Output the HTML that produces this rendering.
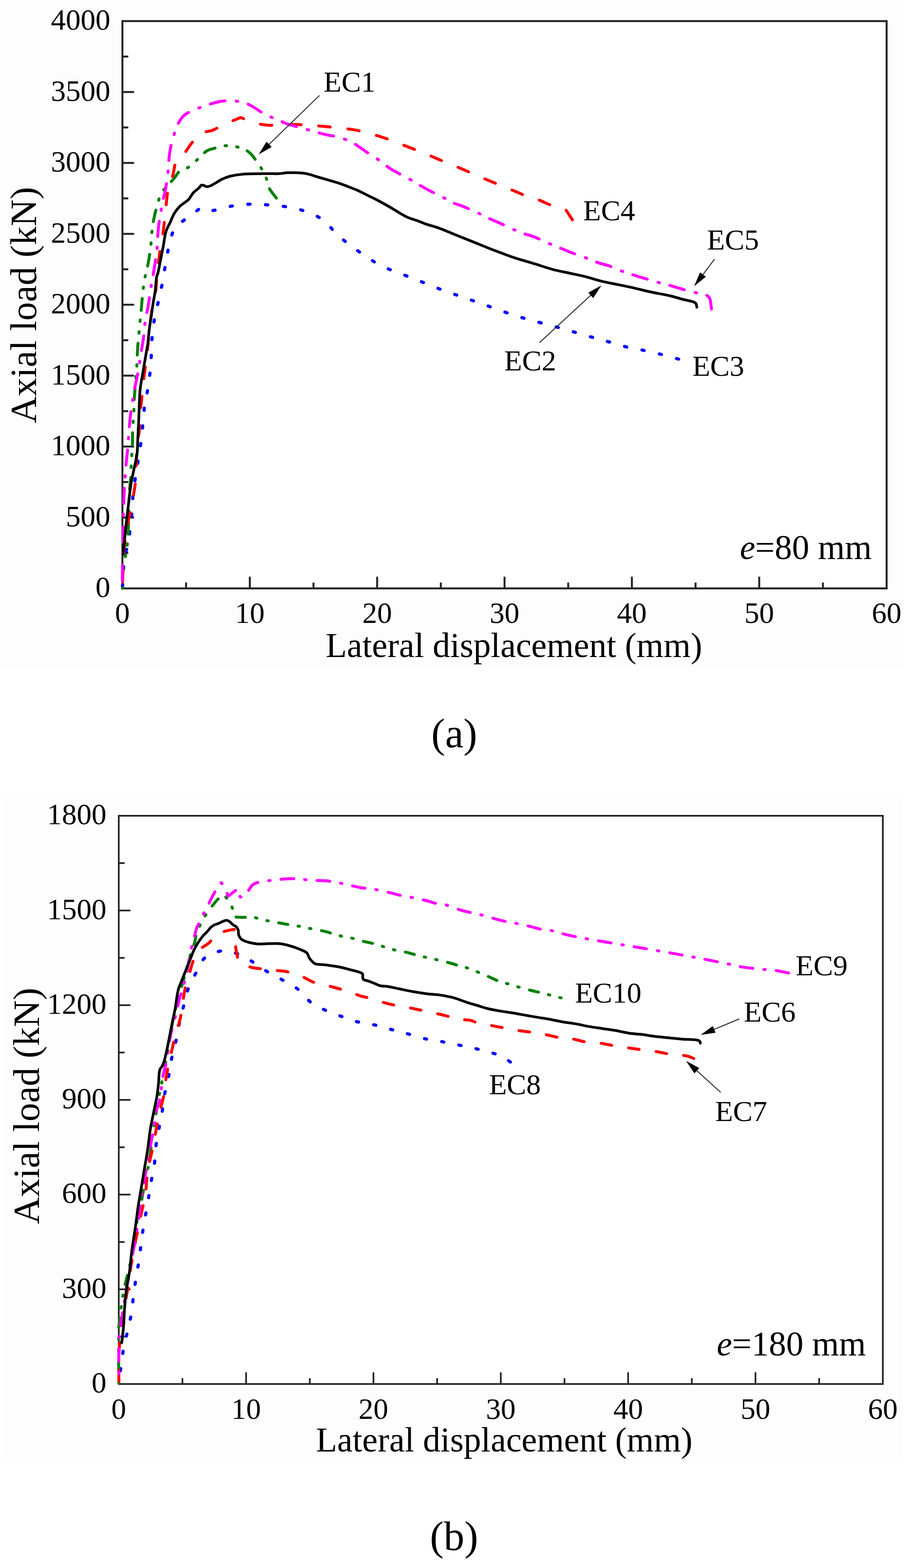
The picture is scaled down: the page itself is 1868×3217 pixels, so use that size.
<!DOCTYPE html>
<html><head><meta charset="utf-8"><title>Axial load vs lateral displacement</title>
<style>
html,body{margin:0;padding:0;background:#fff;}
body{width:1868px;height:3217px;overflow:hidden;position:relative;}
svg{position:absolute;left:0;top:0;}
text{font-family:"Liberation Serif","Times New Roman",serif;fill:#000;}
.tk{font-size:61px;}
.yt{font-size:76.6px;}
.xt{font-size:71.4px;}
.lb{font-size:60px;}
.ee{font-size:71px;}
.cap{font-size:85px;}
</style></head>
<body>
<svg width="1868" height="3217" viewBox="0 0 1868 3217">
<rect x="0" y="0" width="1857" height="1368" fill="#fdfdfd"/>
<rect x="6" y="1628" width="1846" height="1370" fill="#fdfdfd"/>
<rect x="251.3" y="43.3" width="1568.7" height="1163.9" fill="#fff" stroke="#232323" stroke-width="4.0"/>
<line x1="382.0" y1="1207.2" x2="382.0" y2="1195.2" stroke="#232323" stroke-width="4.0"/>
<line x1="512.8" y1="1207.2" x2="512.8" y2="1183.2" stroke="#232323" stroke-width="4.0"/>
<line x1="643.5" y1="1207.2" x2="643.5" y2="1195.2" stroke="#232323" stroke-width="4.0"/>
<line x1="774.2" y1="1207.2" x2="774.2" y2="1183.2" stroke="#232323" stroke-width="4.0"/>
<line x1="904.9" y1="1207.2" x2="904.9" y2="1195.2" stroke="#232323" stroke-width="4.0"/>
<line x1="1035.7" y1="1207.2" x2="1035.7" y2="1183.2" stroke="#232323" stroke-width="4.0"/>
<line x1="1166.4" y1="1207.2" x2="1166.4" y2="1195.2" stroke="#232323" stroke-width="4.0"/>
<line x1="1297.1" y1="1207.2" x2="1297.1" y2="1183.2" stroke="#232323" stroke-width="4.0"/>
<line x1="1427.8" y1="1207.2" x2="1427.8" y2="1195.2" stroke="#232323" stroke-width="4.0"/>
<line x1="1558.5" y1="1207.2" x2="1558.5" y2="1183.2" stroke="#232323" stroke-width="4.0"/>
<line x1="1689.3" y1="1207.2" x2="1689.3" y2="1195.2" stroke="#232323" stroke-width="4.0"/>
<line x1="251.3" y1="1134.5" x2="263.3" y2="1134.5" stroke="#232323" stroke-width="4.0"/>
<line x1="251.3" y1="1061.7" x2="275.3" y2="1061.7" stroke="#232323" stroke-width="4.0"/>
<line x1="251.3" y1="989.0" x2="263.3" y2="989.0" stroke="#232323" stroke-width="4.0"/>
<line x1="251.3" y1="916.2" x2="275.3" y2="916.2" stroke="#232323" stroke-width="4.0"/>
<line x1="251.3" y1="843.5" x2="263.3" y2="843.5" stroke="#232323" stroke-width="4.0"/>
<line x1="251.3" y1="770.7" x2="275.3" y2="770.7" stroke="#232323" stroke-width="4.0"/>
<line x1="251.3" y1="698.0" x2="263.3" y2="698.0" stroke="#232323" stroke-width="4.0"/>
<line x1="251.3" y1="625.2" x2="275.3" y2="625.2" stroke="#232323" stroke-width="4.0"/>
<line x1="251.3" y1="552.5" x2="263.3" y2="552.5" stroke="#232323" stroke-width="4.0"/>
<line x1="251.3" y1="479.8" x2="275.3" y2="479.8" stroke="#232323" stroke-width="4.0"/>
<line x1="251.3" y1="407.0" x2="263.3" y2="407.0" stroke="#232323" stroke-width="4.0"/>
<line x1="251.3" y1="334.3" x2="275.3" y2="334.3" stroke="#232323" stroke-width="4.0"/>
<line x1="251.3" y1="261.5" x2="263.3" y2="261.5" stroke="#232323" stroke-width="4.0"/>
<line x1="251.3" y1="188.8" x2="275.3" y2="188.8" stroke="#232323" stroke-width="4.0"/>
<line x1="251.3" y1="116.0" x2="263.3" y2="116.0" stroke="#232323" stroke-width="4.0"/>
<text x="251.3" y="1277.5" text-anchor="middle" class="tk">0</text>
<text x="512.8" y="1277.5" text-anchor="middle" class="tk">10</text>
<text x="774.2" y="1277.5" text-anchor="middle" class="tk">20</text>
<text x="1035.7" y="1277.5" text-anchor="middle" class="tk">30</text>
<text x="1297.1" y="1277.5" text-anchor="middle" class="tk">40</text>
<text x="1558.5" y="1277.5" text-anchor="middle" class="tk">50</text>
<text x="1820.0" y="1277.5" text-anchor="middle" class="tk">60</text>
<text x="226.5" y="1225.2" text-anchor="end" class="tk">0</text>
<text x="226.5" y="1079.7" text-anchor="end" class="tk">500</text>
<text x="226.5" y="934.2" text-anchor="end" class="tk">1000</text>
<text x="226.5" y="788.7" text-anchor="end" class="tk">1500</text>
<text x="226.5" y="643.2" text-anchor="end" class="tk">2000</text>
<text x="226.5" y="497.8" text-anchor="end" class="tk">2500</text>
<text x="226.5" y="352.3" text-anchor="end" class="tk">3000</text>
<text x="226.5" y="206.8" text-anchor="end" class="tk">3500</text>
<text x="226.5" y="61.3" text-anchor="end" class="tk">4000</text>
<rect x="243.8" y="1673.7" width="1568.4" height="1165.8" fill="#fff" stroke="#1e1e1e" stroke-width="3.4"/>
<line x1="374.5" y1="2839.5" x2="374.5" y2="2827.5" stroke="#1e1e1e" stroke-width="3.4"/>
<line x1="505.2" y1="2839.5" x2="505.2" y2="2815.5" stroke="#1e1e1e" stroke-width="3.4"/>
<line x1="635.9" y1="2839.5" x2="635.9" y2="2827.5" stroke="#1e1e1e" stroke-width="3.4"/>
<line x1="766.6" y1="2839.5" x2="766.6" y2="2815.5" stroke="#1e1e1e" stroke-width="3.4"/>
<line x1="897.3" y1="2839.5" x2="897.3" y2="2827.5" stroke="#1e1e1e" stroke-width="3.4"/>
<line x1="1028.0" y1="2839.5" x2="1028.0" y2="2815.5" stroke="#1e1e1e" stroke-width="3.4"/>
<line x1="1158.7" y1="2839.5" x2="1158.7" y2="2827.5" stroke="#1e1e1e" stroke-width="3.4"/>
<line x1="1289.4" y1="2839.5" x2="1289.4" y2="2815.5" stroke="#1e1e1e" stroke-width="3.4"/>
<line x1="1420.1" y1="2839.5" x2="1420.1" y2="2827.5" stroke="#1e1e1e" stroke-width="3.4"/>
<line x1="1550.8" y1="2839.5" x2="1550.8" y2="2815.5" stroke="#1e1e1e" stroke-width="3.4"/>
<line x1="1681.5" y1="2839.5" x2="1681.5" y2="2827.5" stroke="#1e1e1e" stroke-width="3.4"/>
<line x1="243.8" y1="2742.3" x2="255.8" y2="2742.3" stroke="#1e1e1e" stroke-width="3.4"/>
<line x1="243.8" y1="2645.2" x2="267.8" y2="2645.2" stroke="#1e1e1e" stroke-width="3.4"/>
<line x1="243.8" y1="2548.1" x2="255.8" y2="2548.1" stroke="#1e1e1e" stroke-width="3.4"/>
<line x1="243.8" y1="2450.9" x2="267.8" y2="2450.9" stroke="#1e1e1e" stroke-width="3.4"/>
<line x1="243.8" y1="2353.8" x2="255.8" y2="2353.8" stroke="#1e1e1e" stroke-width="3.4"/>
<line x1="243.8" y1="2256.6" x2="267.8" y2="2256.6" stroke="#1e1e1e" stroke-width="3.4"/>
<line x1="243.8" y1="2159.4" x2="255.8" y2="2159.4" stroke="#1e1e1e" stroke-width="3.4"/>
<line x1="243.8" y1="2062.3" x2="267.8" y2="2062.3" stroke="#1e1e1e" stroke-width="3.4"/>
<line x1="243.8" y1="1965.2" x2="255.8" y2="1965.2" stroke="#1e1e1e" stroke-width="3.4"/>
<line x1="243.8" y1="1868.0" x2="267.8" y2="1868.0" stroke="#1e1e1e" stroke-width="3.4"/>
<line x1="243.8" y1="1770.8" x2="255.8" y2="1770.8" stroke="#1e1e1e" stroke-width="3.4"/>
<text x="243.8" y="2910.5" text-anchor="middle" class="tk">0</text>
<text x="505.2" y="2910.5" text-anchor="middle" class="tk">10</text>
<text x="766.6" y="2910.5" text-anchor="middle" class="tk">20</text>
<text x="1028.0" y="2910.5" text-anchor="middle" class="tk">30</text>
<text x="1289.4" y="2910.5" text-anchor="middle" class="tk">40</text>
<text x="1550.8" y="2910.5" text-anchor="middle" class="tk">50</text>
<text x="1812.2" y="2910.5" text-anchor="middle" class="tk">60</text>
<text x="218.5" y="2857.0" text-anchor="end" class="tk">0</text>
<text x="218.5" y="2662.7" text-anchor="end" class="tk">300</text>
<text x="218.5" y="2468.4" text-anchor="end" class="tk">600</text>
<text x="218.5" y="2274.1" text-anchor="end" class="tk">900</text>
<text x="218.5" y="2079.8" text-anchor="end" class="tk">1200</text>
<text x="218.5" y="1885.5" text-anchor="end" class="tk">1500</text>
<text x="218.5" y="1691.2" text-anchor="end" class="tk">1800</text>
<text transform="translate(73.7,868.5) rotate(-90)" class="yt">Axial load (kN)</text>
<text transform="translate(80.3,2511.5) rotate(-90)" class="yt">Axial load (kN)</text>
<text x="668.4" y="1347.7" class="xt">Lateral displacement (mm)</text>
<text x="648.4" y="2977.9" class="xt">Lateral displacement (mm)</text>
<path d="M1393.0,736.8 C1381.1,733.6 1369.3,730.2 1357.4,727.2 C1345.6,724.2 1333.7,721.5 1321.9,719.0 C1310.2,716.5 1298.3,714.8 1286.7,712.0 C1275.1,709.2 1262.8,705.0 1252.2,702.0 C1243.2,699.5 1236.2,697.8 1227.0,695.2 C1215.7,692.1 1201.7,688.0 1189.5,684.5 C1177.9,681.1 1166.3,677.5 1155.5,674.5 C1145.6,671.7 1137.2,669.6 1127.1,666.9 C1115.4,663.7 1101.4,660.0 1089.2,656.6 C1077.8,653.4 1067.4,650.7 1056.0,647.0 C1043.6,643.0 1029.9,637.9 1017.6,633.5 C1006.3,629.5 996.1,625.7 985.0,621.8 C973.4,617.7 960.9,613.5 949.4,609.5 C938.6,605.8 928.7,602.5 918.0,598.6 C906.6,594.5 894.5,589.9 882.8,585.3 C871.1,580.7 859.8,575.6 848.0,571.0 C836.1,566.4 823.7,562.7 811.7,557.8 C799.6,552.8 787.0,547.6 775.6,541.4 C764.4,535.3 754.0,527.9 743.7,520.9 C733.8,514.2 724.2,507.6 715.0,500.4 C706.0,493.3 697.2,486.1 689.0,478.2 C680.8,470.3 675.2,460.1 665.8,453.0 C655.5,445.2 641.5,439.0 628.9,434.3 C616.8,429.8 604.7,427.3 592.0,425.0 C578.8,422.6 564.4,421.5 551.0,420.5 C538.2,419.5 526.1,418.5 513.5,418.9 C500.6,419.3 487.2,420.8 474.5,423.0 C462.0,425.2 449.9,429.0 437.6,432.0 L414.0,425.0 C404.4,432.2 394.6,439.3 385.3,446.5 C376.4,453.5 365.5,458.6 359.3,467.5 C352.9,476.7 350.9,490.1 347.9,501.1 C345.1,511.3 343.7,520.1 341.6,531.3 C339.0,545.2 336.3,564.1 333.7,578.1 C331.6,589.5 329.6,598.5 327.3,609.0 C324.9,620.1 321.7,632.0 319.4,643.2 C317.2,653.9 315.1,664.4 313.8,674.9 C312.5,685.1 312.0,694.3 311.4,705.1 C310.7,717.4 310.7,732.0 309.8,744.8 C308.9,756.9 307.5,768.6 306.0,780.0 C304.6,790.8 302.8,801.2 301.1,811.4 C299.5,821.0 297.3,829.9 296.0,839.5 C294.6,849.6 294.2,860.3 293.2,870.8 C292.2,881.3 291.3,891.9 290.0,902.5 C288.7,913.1 286.8,923.8 285.2,934.3 C283.6,944.5 282.1,954.4 280.5,964.4 C278.9,974.5 277.1,984.3 275.7,994.6 C274.2,1005.4 272.9,1017.1 272.0,1027.9 C271.1,1038.2 271.1,1047.5 270.2,1058.1 C269.2,1069.8 267.7,1083.6 266.0,1095.0 C264.5,1105.1 262.4,1113.9 260.6,1123.2 C258.8,1132.3 256.4,1141.4 255.1,1150.2 C253.9,1158.6 253.6,1166.2 253.0,1175.0 C252.3,1185.0 251.9,1196.3 251.3,1207.0" fill="none" stroke="#0000ff" stroke-width="6.5" stroke-linecap="round" stroke-linejoin="round" stroke-dasharray="4.5 32"/>
<path d="M567.4,406.6 C562.3,399.4 555.5,392.4 552.0,385.0 C548.8,378.3 548.7,370.8 546.3,364.5 C544.0,358.6 541.0,353.1 538.1,348.1 C535.5,343.6 533.1,340.3 529.9,335.8 C525.8,330.0 520.2,321.3 515.5,316.4 C512.0,312.8 509.5,310.6 505.2,308.2 C499.7,305.2 491.8,302.5 484.8,301.0 C477.8,299.5 470.5,298.4 463.3,298.9 C455.8,299.4 447.5,302.2 440.7,304.1 C435.0,305.7 430.6,306.1 425.3,309.2 C417.8,313.6 408.9,324.5 401.7,330.7 C395.8,335.8 390.9,340.7 385.3,344.0 C380.3,346.9 374.4,346.7 369.9,350.0 C365.0,353.6 361.9,360.4 357.6,365.6 C353.1,371.0 347.9,376.6 343.3,381.9 C339.0,386.8 334.2,390.7 331.0,396.3 C327.5,402.5 326.0,410.6 323.8,417.9 C321.6,425.2 319.5,432.6 317.8,440.0 C316.1,447.3 314.6,455.0 313.5,462.0 C312.5,468.2 312.1,473.5 311.5,479.7 C310.8,486.7 310.6,494.4 309.8,501.9 C309.0,509.7 308.0,517.7 306.7,525.7 C305.4,534.0 303.6,543.1 301.9,551.1 C300.4,558.3 298.4,564.8 297.1,571.7 C295.8,578.6 294.9,585.2 294.0,592.4 C293.0,600.0 292.4,608.0 291.6,616.2 C290.8,624.9 290.0,634.5 289.2,643.2 C288.4,651.4 287.6,658.9 286.8,667.0 C286.0,675.3 285.1,684.7 284.4,692.4 C283.8,698.7 283.4,703.3 282.9,709.8 C282.3,718.2 281.7,729.8 281.3,738.4 C281.0,745.4 281.0,750.6 280.5,757.5 C280.0,765.7 278.8,776.0 278.1,784.4 C277.5,791.7 277.0,798.2 276.5,805.1 C276.0,812.0 275.5,818.7 275.2,826.0 C274.8,834.1 275.0,843.2 274.5,851.7 C274.1,860.2 273.0,867.8 272.5,877.1 C271.9,888.5 272.2,902.8 271.7,915.2 C271.2,927.1 269.9,939.3 269.4,950.2 C268.9,959.8 269.1,968.3 268.6,977.1 C268.1,985.7 266.9,993.1 266.2,1002.5 C265.3,1014.3 264.6,1030.0 264.2,1042.2 C263.9,1052.5 264.1,1060.8 263.8,1070.8 C263.5,1081.9 263.1,1094.7 262.2,1105.7 C261.4,1115.7 260.6,1125.0 259.0,1134.3 C257.4,1143.5 253.8,1153.1 252.7,1161.3 C251.8,1168.1 252.1,1173.2 251.9,1180.0 C251.6,1188.2 251.5,1198.0 251.3,1207.0" fill="none" stroke="#008000" stroke-width="6" stroke-linecap="round" stroke-linejoin="round" stroke-dasharray="24 20 3 21 3 21"/>
<path d="M1175.0,451.0 L1160.0,428.0 C1158.2,427.5 1157.0,427.1 1154.5,426.4 C1149.4,425.1 1139.1,423.5 1131.2,420.9 C1122.7,418.1 1114.0,413.2 1105.3,410.0 C1096.7,406.8 1087.9,404.9 1079.3,401.7 C1070.6,398.5 1062.4,394.6 1053.3,390.8 C1043.3,386.7 1032.1,382.2 1021.9,378.0 C1012.1,374.0 1002.1,370.0 993.2,366.2 C985.4,362.9 979.1,360.0 971.3,356.6 C962.4,352.7 952.3,348.4 942.6,344.3 C932.7,340.2 922.2,336.0 912.5,332.0 C903.5,328.3 895.8,325.0 886.5,321.1 C875.6,316.6 861.8,310.8 851.0,306.5 C841.9,302.9 834.6,300.3 825.8,296.9 C816.0,293.2 805.4,288.6 795.0,285.0 C784.5,281.4 773.8,278.3 763.2,275.3 C752.6,272.3 742.0,269.2 731.4,267.1 C721.1,265.1 711.2,264.2 700.7,263.0 C689.7,261.7 677.7,260.6 666.8,259.6 C656.6,258.6 646.9,257.6 637.1,256.9 C627.5,256.2 618.1,255.7 608.4,255.5 C598.3,255.3 587.6,255.7 577.7,255.9 C568.5,256.1 560.1,257.5 551.0,256.9 C541.4,256.3 531.1,254.5 521.6,251.8 C512.1,249.2 503.2,244.6 494.0,241.0 C483.8,245.3 473.1,249.3 463.3,253.8 C454.0,258.0 445.6,263.6 436.6,267.1 C428.1,270.4 418.3,269.8 411.0,274.3 C403.6,278.9 398.1,287.8 392.5,294.8 C387.2,301.5 383.3,309.1 378.1,315.3 C373.0,321.3 365.4,325.1 361.7,331.7 C357.8,338.6 357.6,348.5 355.6,356.3 C353.8,363.4 352.4,370.3 350.4,376.8 C348.6,382.9 345.8,387.8 344.3,394.3 C342.5,401.9 342.1,411.7 341.2,419.9 C340.3,427.5 339.7,433.7 338.8,442.0 C337.6,452.9 336.1,467.7 334.4,479.7 C332.8,490.7 330.4,501.6 328.9,511.4 C327.6,519.9 326.8,527.1 325.7,535.2 C324.6,543.5 323.5,551.3 322.5,560.6 C321.3,572.0 321.1,588.2 319.4,598.7 C318.2,606.2 316.0,610.5 314.6,617.8 C312.7,627.3 311.2,641.1 309.8,651.1 C308.6,659.2 307.6,665.0 306.7,673.3 C305.5,683.9 304.6,698.4 303.5,709.8 C302.5,719.9 301.5,728.4 300.3,738.4 C298.9,749.5 297.0,762.8 295.6,773.3 C294.4,782.0 293.2,789.2 292.4,797.1 C291.6,804.8 291.5,812.6 290.8,820.0 C290.1,827.1 289.1,832.5 288.4,840.6 C287.4,852.3 287.2,872.1 286.0,883.5 C285.2,891.1 283.8,894.8 282.9,902.5 C281.5,914.2 280.5,932.4 279.7,947.0 C278.9,961.0 279.2,976.0 278.1,988.3 C277.2,998.3 275.6,1005.9 274.1,1015.2 C272.5,1025.4 270.6,1037.8 268.6,1047.0 C267.1,1054.2 265.3,1058.5 263.8,1066.0 C261.6,1076.8 259.2,1094.1 257.5,1105.7 C256.2,1114.6 255.1,1120.5 254.3,1129.5 C253.3,1141.0 253.1,1159.0 252.7,1169.2 C252.4,1175.7 252.2,1179.3 252.0,1185.0 C251.7,1191.7 251.5,1199.7 251.3,1207.0" fill="none" stroke="#ff0000" stroke-width="6" stroke-linecap="round" stroke-linejoin="round" stroke-dasharray="23.5 36.5"/>
<path d="M1460.5,634.3 C1459.1,626.6 1459.4,616.1 1456.4,611.1 C1454.4,607.7 1451.0,606.0 1448.1,604.6 C1445.5,603.3 1443.1,603.2 1440.0,602.5 C1436.0,601.7 1430.9,601.1 1426.3,600.2 C1421.5,599.2 1417.8,598.3 1411.9,596.7 C1402.5,594.2 1386.2,588.7 1375.7,585.8 C1367.7,583.6 1361.5,582.2 1354.5,580.3 C1347.6,578.4 1340.5,576.1 1334.0,574.2 C1328.0,572.5 1322.9,571.2 1316.9,569.4 C1310.2,567.4 1302.4,564.9 1295.5,562.6 C1288.9,560.5 1283.2,558.7 1276.4,556.2 C1268.4,553.2 1258.8,548.4 1250.4,545.5 C1242.9,542.9 1235.7,541.6 1228.5,539.1 C1221.2,536.6 1215.1,533.7 1207.0,530.6 C1196.5,526.6 1181.2,521.5 1170.9,517.5 C1163.1,514.5 1157.4,511.8 1150.4,509.0 C1143.2,506.1 1136.6,503.6 1128.5,500.2 C1118.3,495.9 1103.9,488.7 1094.3,485.1 C1087.5,482.6 1082.5,481.7 1076.6,479.7 C1070.6,477.6 1065.6,475.7 1058.8,472.8 C1049.5,468.9 1035.5,462.0 1026.0,457.8 C1018.8,454.6 1013.4,452.6 1006.8,449.6 C999.7,446.3 993.1,442.5 985.0,438.7 C974.9,434.0 960.6,427.5 950.8,423.6 C943.6,420.7 937.6,419.4 931.7,416.8 C926.3,414.4 922.7,411.8 916.6,408.6 C907.3,403.7 891.5,396.3 881.1,390.8 C872.9,386.4 865.5,382.2 859.2,378.5 C854.3,375.6 851.5,373.7 846.3,370.7 C838.7,366.3 826.2,360.1 817.6,355.3 C810.4,351.3 804.1,348.1 798.1,344.0 C792.5,340.2 788.7,336.0 782.7,331.7 C775.1,326.2 763.8,319.5 756.0,314.3 C749.8,310.2 745.3,306.8 739.6,303.0 C733.4,298.9 727.6,294.2 720.2,290.7 C711.5,286.5 699.6,282.9 690.4,280.5 C682.7,278.5 676.1,278.1 668.9,276.4 C661.4,274.7 654.8,272.5 646.3,270.2 C635.5,267.2 620.0,263.0 609.4,260.0 C601.3,257.7 594.6,256.3 587.9,253.8 C581.7,251.5 576.9,248.4 570.5,245.6 C562.9,242.3 553.1,239.7 545.0,235.5 C536.8,231.3 528.7,224.6 521.6,220.5 C516.0,217.3 512.5,214.7 506.3,212.5 C497.9,209.6 484.9,207.0 475.0,206.5 C466.2,206.0 458.1,207.0 450.0,208.5 C442.2,209.9 435.5,212.3 427.3,215.0 C417.3,218.3 403.5,222.7 394.5,227.0 C387.6,230.3 381.7,233.3 377.1,237.4 C373.1,241.0 370.5,245.5 367.9,249.7 C365.4,253.7 363.7,256.9 361.7,262.0 C358.8,269.5 355.7,282.4 353.5,290.7 C351.8,296.9 350.6,300.9 349.4,307.1 C347.9,315.1 346.9,326.1 346.0,335.0 C345.2,343.1 345.3,350.0 344.3,358.4 C343.2,368.4 341.1,381.4 339.2,391.2 C337.6,399.2 335.5,405.5 334.0,412.8 C332.5,420.2 331.2,428.6 330.0,435.3 C329.1,440.7 328.3,444.2 327.5,450.0 C326.3,458.2 324.8,470.1 324.0,480.0 C323.2,489.6 323.4,498.4 322.5,508.3 C321.5,519.3 319.3,533.3 317.8,543.2 C316.7,550.5 315.7,556.0 314.6,562.2 C313.6,568.2 312.5,573.0 311.4,579.7 C309.9,588.7 308.1,602.0 306.7,611.4 C305.5,619.0 304.8,625.2 303.5,632.1 C302.2,639.0 300.0,645.0 298.7,652.7 C297.1,662.4 296.8,676.2 295.6,686.0 C294.6,693.7 293.5,700.0 292.4,706.7 C291.4,713.2 290.3,718.6 289.2,725.7 C287.7,734.9 286.0,748.1 284.4,757.5 C283.1,765.1 281.9,771.1 280.5,778.1 C279.0,785.4 277.2,792.6 275.7,800.3 C274.1,808.5 272.8,817.4 271.5,826.0 C270.2,834.6 268.9,842.5 267.8,851.7 C266.5,862.5 265.4,876.2 264.6,886.7 C263.9,895.4 263.8,901.2 263.0,910.5 C261.9,923.7 259.4,944.9 258.3,958.1 C257.5,967.4 257.3,973.0 256.7,981.9 C256.0,993.1 254.8,1009.0 254.3,1020.0 C253.9,1028.4 253.7,1032.7 253.5,1042.2 C253.1,1059.1 252.9,1093.2 252.5,1113.0 C252.2,1127.3 251.8,1136.3 251.6,1150.0 C251.3,1167.0 251.4,1188.0 251.3,1207.0" fill="none" stroke="#ff00ff" stroke-width="6" stroke-linecap="round" stroke-linejoin="round" stroke-dasharray="31 22 3 23"/>
<path d="M252.7,1137.5 C253.8,1126.9 254.8,1116.3 255.9,1105.7 C256.9,1095.1 257.8,1085.2 259.0,1074.0 C260.4,1061.5 262.2,1047.5 263.8,1034.3 C265.4,1021.1 266.6,1007.1 268.6,994.6 C270.4,983.4 272.8,973.5 274.9,962.9 C277.0,952.3 280.0,941.7 281.3,931.1 C282.6,920.6 282.3,911.0 282.9,899.4 C283.6,885.1 284.4,867.9 285.2,851.7 C286.0,834.8 285.9,816.3 287.6,800.0 C289.2,785.1 292.3,771.0 294.5,757.5 C296.5,745.1 298.8,731.8 300.5,722.0 C301.7,715.1 302.7,710.9 303.6,704.3 C304.7,695.9 305.2,685.2 306.4,675.7 C307.6,666.2 309.3,656.3 310.7,647.1 C312.0,638.5 313.0,630.4 314.3,622.1 C315.6,613.8 317.4,605.7 318.6,597.1 C319.8,587.9 320.0,575.4 321.4,568.6 C322.2,564.7 323.3,563.5 324.3,559.7 C326.0,553.1 327.9,541.5 329.7,532.4 C331.5,523.3 333.4,514.4 335.2,505.1 C337.1,495.3 338.0,483.6 340.7,475.0 C342.9,468.1 346.1,463.3 348.9,457.2 C351.9,450.6 354.7,442.7 358.4,436.7 C361.7,431.4 365.5,426.8 369.4,423.0 C372.8,419.7 376.8,417.4 380.0,415.0 C382.6,413.0 384.7,411.9 387.1,409.4 C390.3,406.0 393.4,399.4 396.7,395.7 C399.4,392.7 402.6,390.7 405.0,388.5 C407.0,386.7 409.0,385.0 410.4,383.4 C411.5,382.1 411.8,380.3 413.1,379.8 C414.5,379.2 416.7,380.0 418.5,380.5 C420.4,381.0 422.0,382.8 424.0,383.0 C426.2,383.3 428.7,382.5 431.4,381.5 C435.1,380.2 439.6,377.1 443.7,374.8 C447.8,372.5 451.5,369.7 456.0,367.6 C461.0,365.2 466.4,363.1 472.5,361.5 C479.8,359.6 487.3,358.3 497.1,357.4 C511.5,356.1 537.3,356.4 551.0,356.3 C559.5,356.2 564.7,356.6 571.5,356.3 C578.3,356.0 584.5,354.5 592.0,354.3 C601.2,354.0 614.5,354.3 622.8,355.3 C628.5,356.0 632.2,357.1 637.1,358.4 C642.4,359.8 647.5,361.7 653.5,363.5 C660.9,365.7 670.3,368.4 678.1,370.7 C685.2,372.8 692.2,374.6 698.6,376.8 C704.4,378.8 709.2,380.8 715.0,383.0 C721.5,385.5 728.7,388.2 735.5,391.2 C742.4,394.3 749.2,398.1 756.0,401.5 C762.8,404.9 769.7,408.1 776.5,411.7 C783.4,415.3 790.3,419.1 797.1,423.0 C804.0,426.9 810.7,431.3 817.6,435.3 C824.4,439.2 831.3,443.6 838.1,446.6 C844.4,449.3 850.9,450.6 856.9,452.8 C862.6,454.9 867.1,457.2 873.3,459.4 C881.1,462.2 890.7,464.3 900.0,467.6 C910.5,471.3 921.4,476.3 933.0,481.0 C945.9,486.2 960.3,491.9 974.0,497.4 C987.7,502.9 1001.3,508.5 1015.0,513.8 C1028.7,519.0 1046.1,525.5 1056.1,528.9 C1061.8,530.8 1064.4,531.4 1069.7,533.0 C1077.2,535.3 1087.0,538.1 1097.1,541.2 C1109.7,545.0 1126.7,550.9 1139.6,554.2 C1150.1,556.9 1158.4,558.1 1168.4,560.3 C1179.3,562.7 1191.2,565.0 1202.5,567.8 C1213.9,570.7 1225.2,574.6 1236.7,577.4 C1248.1,580.2 1259.9,582.1 1270.9,584.4 C1281.1,586.5 1290.3,588.3 1300.5,590.6 C1311.5,593.1 1322.8,596.2 1334.7,598.8 C1347.7,601.7 1363.5,604.1 1375.7,607.0 C1385.8,609.4 1394.4,612.2 1403.0,614.5 C1410.7,616.5 1420.6,617.8 1424.9,620.0 C1427.0,621.1 1428.1,622.0 1429.0,623.6 C1430.0,625.3 1429.9,628.0 1430.4,630.2" fill="none" stroke="#000000" stroke-width="5.5" stroke-linecap="round" stroke-linejoin="round"/>
<path d="M1047.7,2178.9 C1041.8,2174.9 1037.2,2170.3 1030.0,2166.9 C1020.7,2162.5 1007.1,2159.7 995.7,2156.5 C984.7,2153.4 974.0,2150.7 962.8,2148.2 C951.2,2145.6 938.2,2143.6 927.3,2141.4 C918.0,2139.5 910.0,2137.5 901.3,2135.9 C892.7,2134.3 884.5,2133.8 875.3,2131.8 C864.6,2129.5 850.9,2125.1 841.2,2122.3 C833.9,2120.2 829.3,2118.7 822.0,2116.8 C812.5,2114.3 798.6,2111.1 789.2,2108.6 C782.0,2106.7 777.3,2104.8 770.1,2103.1 C760.8,2101.0 748.8,2100.2 738.0,2097.5 C726.6,2094.7 714.9,2090.2 703.6,2086.2 C692.5,2082.3 681.5,2078.7 670.8,2073.9 C660.1,2069.1 649.1,2064.6 639.4,2057.5 C629.0,2049.9 620.9,2036.7 610.7,2028.8 C601.2,2021.4 590.7,2016.7 580.6,2011.0 C570.6,2005.3 560.3,2000.5 550.5,1994.6 C540.7,1988.7 531.4,1981.5 521.8,1975.5 C512.5,1969.7 504.1,1963.2 493.7,1959.2 C482.2,1954.8 467.7,1949.9 455.4,1951.0 C443.4,1952.0 429.0,1957.7 420.6,1965.0 C413.1,1971.5 410.6,1981.6 405.6,1990.5 C400.2,2000.1 393.7,2009.7 389.2,2020.6 C384.4,2032.4 381.7,2046.1 378.3,2058.9 C374.9,2071.6 371.5,2084.6 368.7,2097.2 C366.0,2109.2 364.5,2120.7 361.9,2132.7 C359.2,2145.3 355.2,2158.3 352.5,2171.0 C349.9,2183.5 348.5,2195.9 346.1,2208.3 C343.6,2220.8 340.0,2233.5 337.8,2245.8 C335.7,2257.6 334.8,2268.9 332.9,2280.6 C330.9,2292.5 328.2,2304.5 326.0,2316.7 C323.8,2329.1 321.3,2341.4 319.7,2354.2 C318.0,2367.3 318.2,2381.3 316.3,2394.4 C314.5,2407.2 310.7,2419.7 308.6,2431.9 C306.6,2443.3 305.6,2454.1 303.8,2465.3 C301.9,2476.8 299.5,2487.9 297.4,2500.0 C295.1,2513.2 292.7,2528.2 290.8,2541.7 C289.0,2554.3 288.1,2566.2 286.4,2578.4 C284.7,2590.7 282.4,2602.9 280.5,2615.1 C278.5,2627.4 276.4,2639.5 274.7,2651.9 C273.0,2664.5 272.2,2677.6 270.3,2690.0 C268.5,2702.0 266.2,2713.7 263.6,2725.3 C261.0,2736.7 257.1,2747.6 254.8,2759.1 C252.4,2770.8 251.3,2784.2 249.7,2795.1 C248.4,2804.2 247.0,2812.2 246.0,2820.0 C245.1,2826.9 244.7,2833.0 244.0,2839.5" fill="none" stroke="#0000ff" stroke-width="6.5" stroke-linecap="round" stroke-linejoin="round" stroke-dasharray="4.5 31.5"/>
<path d="M1151.9,2047.3 C1144.6,2045.5 1136.6,2043.5 1130.1,2041.8 C1124.9,2040.4 1121.4,2039.4 1116.0,2038.0 C1108.7,2036.2 1098.1,2034.0 1090.0,2032.0 C1082.7,2030.2 1076.4,2028.6 1069.5,2026.6 C1062.3,2024.5 1054.8,2021.8 1047.6,2019.7 C1040.7,2017.7 1034.0,2016.7 1027.1,2014.3 C1019.8,2011.8 1012.0,2007.6 1005.2,2004.7 C999.4,2002.2 994.6,2000.4 988.8,1997.9 C982.0,1995.0 974.0,1990.9 966.9,1988.3 C960.4,1985.9 954.5,1984.7 947.8,1982.8 C940.4,1980.7 932.2,1978.1 924.6,1976.0 C917.2,1974.0 910.1,1972.3 902.7,1970.5 C895.1,1968.7 886.8,1966.7 879.4,1965.1 C872.7,1963.6 867.0,1962.7 860.3,1961.0 C852.6,1959.1 843.7,1956.0 835.7,1954.1 C828.2,1952.4 821.2,1951.8 813.8,1950.0 C806.1,1948.2 798.2,1945.5 790.6,1943.2 C783.2,1941.0 776.5,1938.5 768.7,1936.4 C759.8,1934.0 748.3,1932.2 740.0,1930.0 C733.5,1928.3 729.2,1926.5 722.8,1924.9 C714.8,1922.9 704.5,1921.7 695.4,1919.4 C686.2,1917.1 677.3,1913.5 668.1,1911.2 C659.1,1909.0 649.9,1907.6 640.8,1905.8 C631.7,1904.0 622.7,1902.0 613.4,1900.3 C603.8,1898.6 593.2,1897.1 584.0,1895.5 C575.7,1894.0 568.0,1892.4 560.6,1891.0 C553.9,1889.8 548.0,1889.0 541.5,1887.6 C534.6,1886.1 527.2,1883.0 520.3,1882.1 C514.0,1881.3 508.2,1882.2 501.8,1882.1 C495.0,1882.0 487.7,1881.6 480.7,1881.4 C479.1,1874.3 478.9,1867.3 475.9,1860.2 C472.5,1852.0 465.4,1843.8 460.2,1835.6 C456.3,1838.3 452.3,1840.3 448.5,1843.8 C443.9,1848.0 439.2,1853.9 434.9,1859.5 C430.4,1865.3 425.9,1871.6 421.9,1878.0 C417.9,1884.4 414.1,1891.0 410.9,1897.8 C407.7,1904.5 404.5,1912.1 402.7,1918.3 C401.3,1923.2 401.5,1926.9 400.1,1932.0 C398.3,1938.7 394.5,1946.8 391.9,1955.0 C389.0,1964.3 386.4,1975.1 383.7,1985.1 C381.0,1995.1 378.3,2005.3 375.5,2015.1 C372.8,2024.5 370.1,2032.3 367.3,2042.5 C363.8,2055.3 359.6,2071.6 356.4,2086.2 C353.2,2100.7 350.2,2117.6 348.2,2130.0 C346.7,2139.2 346.3,2146.2 345.0,2154.0 C343.7,2161.6 342.0,2168.6 340.6,2176.4 C339.1,2184.8 338.2,2193.7 336.4,2202.8 C334.5,2212.6 331.6,2222.6 329.4,2233.3 C327.0,2245.1 324.5,2259.6 322.5,2270.8 C320.9,2280.0 319.8,2286.8 318.3,2295.8 C316.6,2306.4 314.4,2319.0 312.8,2330.6 C311.2,2342.2 310.1,2354.4 308.6,2365.3 C307.3,2375.1 306.1,2383.3 304.4,2393.1 C302.5,2404.0 299.7,2416.9 297.5,2427.8 C295.5,2437.6 293.5,2446.3 291.9,2455.6 C290.3,2464.7 289.7,2474.0 287.8,2483.0 C285.9,2491.9 282.4,2500.3 280.5,2509.4 C278.5,2518.9 277.5,2528.8 276.1,2538.8 C274.6,2549.3 273.6,2560.2 271.7,2571.1 C269.7,2582.3 266.9,2594.1 264.4,2604.9 C262.0,2615.0 259.1,2625.1 257.0,2634.2 C255.2,2642.1 254.0,2648.4 252.6,2656.3 C251.0,2665.4 249.6,2675.3 248.2,2685.6 C246.7,2697.2 244.8,2710.8 244.0,2722.4 C243.3,2732.7 243.6,2740.9 243.5,2751.7 C243.4,2764.9 243.4,2781.1 243.5,2795.8 C243.6,2810.4 243.8,2824.9 244.0,2839.5" fill="none" stroke="#008000" stroke-width="6" stroke-linecap="round" stroke-linejoin="round" stroke-dasharray="3 21 3 21 19 22"/>
<path d="M1424.0,2171.7 C1420.8,2170.3 1418.0,2168.7 1414.4,2167.6 C1410.0,2166.3 1404.8,2165.6 1399.4,2164.9 C1393.1,2164.1 1386.3,2164.5 1378.9,2163.5 C1370.1,2162.4 1360.0,2159.6 1350.2,2158.0 C1340.0,2156.4 1329.1,2155.3 1318.7,2153.9 C1308.6,2152.5 1298.5,2151.2 1288.7,2149.8 C1279.4,2148.5 1270.5,2147.3 1261.3,2145.7 C1251.8,2144.1 1242.4,2141.6 1232.6,2140.2 C1222.4,2138.8 1211.5,2139.1 1201.2,2137.5 C1191.0,2135.9 1180.2,2132.0 1171.1,2130.7 C1163.7,2129.6 1158.0,2130.3 1150.6,2129.3 C1141.7,2128.0 1131.3,2124.9 1121.6,2123.0 C1112.0,2121.1 1102.4,2119.6 1092.7,2118.1 C1082.8,2116.6 1072.6,2115.6 1062.6,2114.0 C1052.5,2112.4 1042.4,2110.4 1032.5,2108.6 C1022.8,2106.8 1012.9,2104.8 1003.8,2103.1 C995.7,2101.6 987.2,2100.9 980.6,2099.0 C975.4,2097.5 972.5,2094.9 966.9,2093.6 C958.9,2091.7 945.3,2092.6 936.9,2090.8 C930.5,2089.5 926.8,2087.1 920.5,2085.3 C912.3,2083.0 901.5,2080.7 891.7,2078.5 C881.5,2076.2 870.4,2073.8 860.3,2071.7 C850.9,2069.7 842.3,2068.0 833.0,2066.2 C823.2,2064.3 812.5,2062.9 802.9,2060.8 C793.9,2058.8 785.7,2056.4 776.9,2053.9 C767.9,2051.4 756.4,2047.6 749.6,2045.7 C745.6,2044.6 744.1,2044.5 740.0,2043.3 C732.2,2040.9 717.4,2034.9 706.4,2031.5 C696.1,2028.3 686.6,2026.0 676.3,2023.3 C665.6,2020.5 653.8,2018.9 643.5,2015.1 C633.7,2011.5 625.5,2005.1 616.1,2001.5 C606.8,1997.9 597.1,1995.1 587.4,1993.3 C577.9,1991.5 567.6,1991.5 558.7,1990.5 C550.9,1989.6 544.4,1988.9 536.9,1987.8 C528.9,1986.6 520.1,1986.3 512.2,1983.7 C504.1,1981.1 496.7,1975.9 488.9,1972.0 C487.1,1961.4 484.8,1951.0 483.4,1940.2 C482.0,1929.2 481.6,1917.9 480.7,1906.7 C477.3,1907.3 474.8,1907.4 470.6,1908.5 C463.3,1910.4 447.9,1913.2 441.0,1918.3 C435.7,1922.2 434.7,1929.0 430.5,1933.2 C426.5,1937.2 420.9,1939.7 416.6,1943.0 C412.6,1946.0 408.7,1947.7 405.5,1952.0 C401.0,1957.9 397.5,1969.1 394.7,1976.9 C392.3,1983.6 391.1,1989.9 389.2,1996.0 C387.4,2001.7 385.4,2006.3 383.7,2012.4 C381.7,2019.7 379.9,2028.6 378.3,2037.0 C376.7,2045.9 375.6,2055.5 374.2,2064.4 C372.9,2072.8 371.9,2080.8 370.1,2089.0 C368.3,2097.3 365.6,2104.9 363.2,2113.6 C360.5,2123.4 357.6,2134.4 355.0,2145.0 C352.4,2155.8 349.9,2166.6 347.5,2177.8 C345.0,2189.5 342.3,2202.8 340.6,2213.9 C339.2,2223.4 339.4,2231.0 337.8,2240.3 C335.9,2251.1 331.9,2264.4 329.4,2275.0 C327.3,2284.0 325.8,2290.8 323.9,2300.0 C321.6,2311.2 318.9,2326.8 316.9,2337.5 C315.4,2345.5 314.4,2350.5 312.8,2358.3 C310.7,2368.4 306.9,2382.8 305.0,2393.0 C303.6,2400.8 303.0,2405.8 302.0,2414.0 C300.6,2425.4 300.0,2442.7 298.0,2455.0 C296.3,2465.3 293.6,2473.2 291.5,2483.0 C289.2,2493.7 287.1,2506.3 284.9,2516.7 C283.0,2525.7 280.8,2533.2 279.1,2541.7 C277.4,2550.4 276.4,2559.1 274.7,2568.1 C272.9,2577.7 270.5,2587.1 268.8,2597.5 C267.0,2609.0 266.1,2623.5 264.4,2634.2 C263.1,2642.5 261.4,2648.4 260.0,2656.3 C258.4,2665.4 257.2,2676.5 255.6,2685.6 C254.2,2693.5 252.5,2699.4 251.2,2707.7 C249.5,2718.4 248.0,2733.3 246.8,2744.4 C245.8,2753.7 245.0,2761.1 244.5,2770.0 C244.0,2779.6 244.1,2789.3 244.0,2800.0 C243.9,2812.3 244.0,2826.3 244.0,2839.5" fill="none" stroke="#ff0000" stroke-width="6" stroke-linecap="round" stroke-linejoin="round" stroke-dasharray="22 35"/>
<path d="M1618.7,1996.2 C1609.1,1994.4 1600.0,1992.1 1590.0,1990.7 C1579.1,1989.2 1567.7,1989.3 1555.8,1988.0 C1542.7,1986.6 1525.0,1984.4 1514.8,1982.5 C1508.6,1981.3 1506.5,1980.4 1500.0,1978.9 C1487.3,1976.1 1458.1,1970.3 1443.7,1967.5 C1434.7,1965.8 1429.1,1964.7 1421.9,1963.4 C1414.9,1962.1 1410.0,1961.1 1401.0,1959.5 C1384.7,1956.6 1353.4,1951.1 1332.4,1947.5 C1314.6,1944.5 1301.3,1942.3 1283.2,1939.3 C1261.1,1935.6 1231.3,1931.0 1209.4,1927.0 C1191.7,1923.7 1175.6,1920.8 1161.5,1917.4 C1150.1,1914.7 1140.4,1910.9 1131.0,1909.0 C1123.2,1907.4 1116.2,1907.7 1109.1,1906.3 C1102.1,1904.9 1096.2,1902.6 1088.6,1900.8 C1079.3,1898.5 1066.0,1895.7 1057.2,1894.0 C1050.9,1892.8 1046.6,1892.4 1040.8,1891.2 C1034.0,1889.8 1027.0,1887.9 1018.9,1885.8 C1008.7,1883.1 994.5,1878.6 984.7,1876.2 C977.4,1874.4 972.2,1873.6 965.6,1872.1 C958.5,1870.5 951.6,1869.0 943.7,1866.6 C934.1,1863.7 921.5,1857.9 912.2,1855.7 C905.1,1854.0 899.4,1854.3 893.1,1853.0 C886.7,1851.6 881.2,1849.3 874.0,1847.5 C864.8,1845.2 852.0,1842.6 842.5,1840.7 C834.6,1839.1 828.0,1838.2 820.7,1836.6 C813.4,1835.0 806.8,1833.0 798.8,1831.1 C789.3,1828.9 777.5,1826.0 767.3,1824.3 C757.9,1822.7 749.3,1822.6 740.0,1821.0 C730.0,1819.3 718.2,1816.2 709.1,1814.2 C702.0,1812.7 696.4,1811.3 690.0,1810.1 C683.7,1809.0 678.2,1808.0 670.9,1807.3 C661.2,1806.4 647.0,1806.8 636.7,1806.0 C628.2,1805.3 620.8,1803.7 613.4,1803.2 C606.7,1802.7 601.5,1802.5 594.1,1802.8 C583.9,1803.2 568.4,1805.0 557.9,1806.2 C549.7,1807.1 542.8,1807.4 536.0,1809.0 C529.9,1810.5 524.1,1811.2 518.9,1815.1 C512.3,1820.1 507.3,1835.6 501.8,1839.0 C498.8,1840.9 495.9,1839.9 493.0,1840.4 L488.2,1823.3 L468.0,1839.0 C466.3,1833.8 465.3,1828.0 462.9,1823.3 C460.6,1818.8 457.0,1815.1 454.0,1811.0 C450.6,1815.7 447.0,1820.1 443.9,1825.0 C440.7,1830.1 437.7,1835.6 434.9,1841.1 C432.0,1846.7 429.5,1852.6 426.7,1858.2 C424.0,1863.6 421.1,1868.7 418.5,1873.9 C415.9,1879.1 413.6,1884.4 411.1,1889.4 C408.8,1894.1 405.9,1898.4 404.1,1903.0 C402.3,1907.5 401.7,1911.1 400.2,1916.7 C397.9,1925.3 394.5,1937.7 391.9,1949.5 C388.9,1963.0 386.6,1979.8 383.7,1993.3 C381.1,2005.1 378.4,2015.7 375.5,2026.1 C372.9,2035.6 369.6,2044.5 367.3,2053.4 C365.1,2061.8 364.0,2069.4 361.9,2078.0 C359.6,2087.5 356.2,2097.8 353.7,2108.0 C351.2,2118.5 349.1,2128.5 347.0,2140.0 C344.6,2153.3 343.0,2171.3 340.6,2183.3 C338.9,2192.0 336.8,2196.4 335.0,2205.6 C332.1,2219.9 330.1,2247.2 326.7,2261.1 C324.6,2269.8 321.3,2274.7 319.7,2281.9 C318.0,2289.5 318.4,2296.4 317.0,2305.6 C315.1,2318.4 311.1,2338.0 308.6,2351.4 C306.6,2361.8 304.7,2369.9 303.1,2379.2 C301.5,2388.4 300.5,2397.3 298.9,2406.9 C297.2,2417.2 295.0,2429.0 293.3,2438.9 C291.8,2447.4 290.4,2454.3 289.2,2462.5 C287.9,2471.3 287.2,2480.9 286.0,2490.0 C284.8,2499.0 283.5,2507.1 282.0,2516.7 C280.3,2528.0 278.2,2541.9 276.1,2553.4 C274.2,2563.8 272.2,2572.4 270.3,2582.8 C268.2,2594.3 266.5,2608.0 264.4,2619.5 C262.5,2629.9 260.2,2639.1 258.5,2648.9 C256.8,2658.7 255.7,2668.0 254.1,2678.3 C252.3,2689.9 250.0,2703.4 248.2,2715.0 C246.6,2725.3 244.7,2734.6 244.0,2744.4 C243.3,2754.2 243.8,2764.3 243.8,2773.8 C243.8,2782.8 243.8,2790.4 243.8,2800.0 C243.8,2811.8 243.9,2826.3 244.0,2839.5" fill="none" stroke="#ff00ff" stroke-width="6" stroke-linecap="round" stroke-linejoin="round" stroke-dasharray="26 22.5 3 22.5"/>
<path d="M249.7,2755.0 C250.2,2751.5 250.7,2748.8 251.2,2744.4 C252.1,2737.1 253.4,2724.8 254.1,2715.0 C254.8,2705.2 254.8,2696.4 255.6,2685.6 C256.6,2672.4 258.1,2655.1 260.0,2641.6 C261.6,2630.0 264.1,2620.8 265.8,2609.3 C267.7,2596.4 268.7,2580.7 270.3,2568.1 C271.7,2557.5 273.2,2548.5 274.7,2538.8 C276.1,2529.2 277.6,2520.1 279.0,2510.0 C280.6,2498.9 281.9,2486.5 283.6,2475.0 C285.3,2463.7 287.2,2453.4 289.2,2441.7 C291.4,2428.6 293.8,2413.9 296.1,2400.0 C298.4,2386.1 301.0,2372.2 303.1,2358.3 C305.2,2344.4 306.3,2330.5 308.6,2316.7 C310.9,2302.8 314.5,2287.1 316.9,2275.0 C318.8,2265.6 320.6,2258.6 322.0,2250.0 C323.5,2241.0 324.5,2231.3 325.5,2222.0 C326.5,2212.9 325.9,2201.2 328.0,2195.0 C329.2,2191.4 331.6,2189.8 333.0,2187.0 C334.5,2184.1 335.5,2181.6 336.7,2177.8 C338.6,2172.1 340.5,2163.0 342.2,2155.6 C343.9,2148.2 345.2,2140.7 346.7,2133.3 C348.2,2125.9 349.6,2118.5 351.1,2111.1 C352.6,2103.7 354.1,2096.3 355.6,2088.9 C357.1,2081.5 358.7,2074.1 360.0,2066.7 C361.3,2059.3 362.1,2051.3 363.3,2044.4 C364.3,2038.4 365.2,2032.7 366.7,2027.8 C367.9,2023.7 369.4,2021.0 371.1,2016.7 C373.5,2010.5 377.0,2001.8 380.0,1994.4 C383.0,1987.0 385.9,1979.6 388.9,1972.2 C391.9,1964.8 394.7,1956.5 397.8,1950.0 C400.3,1944.6 402.6,1940.4 405.6,1935.6 C408.8,1930.5 412.9,1924.6 416.4,1920.4 C419.2,1917.1 421.9,1915.1 424.6,1912.2 C427.4,1909.2 429.9,1905.2 432.8,1902.6 C435.4,1900.3 438.2,1898.5 441.0,1897.1 C443.6,1895.8 446.5,1895.5 449.2,1894.4 C452.0,1893.3 454.6,1891.3 457.4,1890.3 C460.1,1889.3 463.0,1888.0 465.6,1888.3 C468.1,1888.6 470.4,1890.2 472.5,1891.7 C474.5,1893.2 475.9,1895.5 477.9,1897.1 C480.0,1898.7 483.0,1899.4 484.8,1901.2 C486.6,1903.0 488.0,1905.4 488.9,1908.1 C490.0,1911.2 489.0,1915.8 490.2,1919.0 C491.3,1922.1 493.4,1925.1 495.7,1927.2 C498.0,1929.2 500.8,1930.1 503.9,1931.3 C507.5,1932.7 512.0,1933.8 516.2,1934.7 C520.6,1935.6 524.9,1936.5 529.9,1936.8 C536.0,1937.2 543.4,1936.2 550.4,1936.1 C557.9,1936.0 566.4,1935.4 573.6,1936.1 C580.0,1936.7 585.2,1937.9 591.4,1939.5 C598.4,1941.3 606.7,1944.0 613.4,1946.8 C619.4,1949.3 626.1,1951.3 629.8,1955.0 C632.8,1958.0 632.8,1962.4 635.3,1965.9 C638.1,1969.8 641.4,1974.6 646.2,1976.9 C651.9,1979.7 660.4,1978.5 668.1,1979.6 C676.7,1980.8 686.4,1981.9 695.5,1983.7 C704.7,1985.5 714.8,1988.3 722.8,1990.5 C729.2,1992.2 736.3,1993.9 740.0,1995.5 C741.9,1996.3 743.2,1996.5 744.1,1998.0 C745.5,2000.2 743.5,2006.3 745.5,2008.8 C747.5,2011.4 752.8,2011.5 756.4,2012.9 C760.0,2014.3 763.5,2015.5 767.3,2017.0 C771.6,2018.7 776.4,2021.4 781.0,2022.5 C785.5,2023.6 789.4,2023.0 794.7,2023.8 C802.3,2024.9 812.9,2027.5 822.0,2029.3 C831.1,2031.1 840.3,2033.1 849.4,2034.7 C858.5,2036.3 867.6,2037.7 876.7,2038.9 C885.8,2040.0 894.9,2040.2 904.0,2041.6 C913.2,2043.0 922.4,2044.6 931.4,2047.1 C940.6,2049.6 949.6,2053.6 958.7,2056.6 C967.8,2059.5 978.6,2062.5 986.1,2064.8 C991.4,2066.4 994.3,2067.6 999.7,2069.0 C1007.2,2070.9 1018.0,2072.8 1027.1,2074.4 C1036.2,2076.0 1045.3,2077.0 1054.4,2078.5 C1063.5,2080.0 1072.7,2081.9 1081.8,2083.5 C1090.9,2085.1 1100.9,2086.8 1109.1,2088.1 C1115.8,2089.2 1120.6,2089.8 1127.3,2091.0 C1135.5,2092.5 1145.6,2094.9 1154.7,2096.5 C1163.8,2098.1 1172.9,2099.0 1182.0,2100.6 C1191.1,2102.2 1200.3,2104.5 1209.4,2106.1 C1218.5,2107.7 1227.6,2108.8 1236.7,2110.2 C1245.8,2111.6 1254.9,2112.7 1264.0,2114.3 C1273.1,2115.9 1282.2,2118.3 1291.4,2119.7 C1300.5,2121.1 1309.6,2121.4 1318.7,2122.5 C1327.8,2123.7 1337.0,2125.5 1346.1,2126.6 C1355.2,2127.7 1364.3,2128.4 1373.4,2129.3 C1382.5,2130.2 1391.6,2131.3 1400.7,2132.0 C1409.8,2132.7 1421.7,2132.2 1428.1,2133.4 C1431.7,2134.1 1434.8,2134.6 1436.3,2136.1 C1437.4,2137.2 1437.2,2138.9 1437.7,2140.3" fill="none" stroke="#000000" stroke-width="5.5" stroke-linecap="round" stroke-linejoin="round"/>
<text x="664.3" y="187.7" class="lb">EC1</text>
<line x1="655.8" y1="195.9" x2="550.9" y2="297.5" stroke="#2a2a2a" stroke-width="2.0"/><polygon points="530.8,317.0 547.1,290.7 557.6,301.5" fill="#000"/>
<text x="1197" y="451.5" class="lb">EC4</text>
<text x="1451.3" y="511.6" class="lb">EC5</text>
<line x1="1466.8" y1="531.7" x2="1441.8" y2="564.9" stroke="#2a2a2a" stroke-width="2.0"/><polygon points="1424.9,587.2 1437.0,558.7 1449.0,567.8" fill="#000"/>
<text x="1035.1" y="760.2" class="lb">EC2</text>
<line x1="1107.6" y1="702.8" x2="1214.1" y2="604.6" stroke="#2a2a2a" stroke-width="2.0"/><polygon points="1234.7,585.6 1217.7,611.5 1207.6,600.4" fill="#000"/>
<text x="1421.2" y="771.3" class="lb">EC3</text>
<text x="1518.7" y="1146.5" class="ee"><tspan font-style="italic">e</tspan>=80 mm</text>
<text x="1633.3" y="2000.7" class="lb">EC9</text>
<text x="1180.2" y="2057.2" class="lb">EC10</text>
<text x="1526.7" y="2096.4" class="lb">EC6</text>
<line x1="1517.6" y1="2090.5" x2="1464.2" y2="2112.6" stroke="#2a2a2a" stroke-width="2.0"/><polygon points="1438.3,2123.3 1463.2,2104.9 1468.9,2118.8" fill="#000"/>
<text x="1468" y="2300.0" class="lb">EC7</text>
<line x1="1479.3" y1="2240.9" x2="1429.0" y2="2195.4" stroke="#2a2a2a" stroke-width="2.0"/><polygon points="1408.2,2176.6 1435.5,2191.2 1425.4,2202.3" fill="#000"/>
<text x="1003.7" y="2244.5" class="lb">EC8</text>
<text x="1471.3" y="2781.4" class="ee"><tspan font-style="italic">e</tspan>=180 mm</text>
<text x="932.5" y="1532.7" text-anchor="middle" class="cap">(a)</text>
<text x="932" y="3180.4" text-anchor="middle" class="cap">(b)</text>
</svg>
</body></html>
